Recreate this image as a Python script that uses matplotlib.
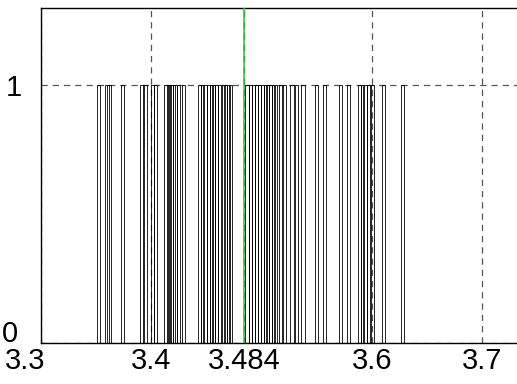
import matplotlib
matplotlib.use("Agg")
import matplotlib.pyplot as plt
import matplotlib.transforms as mtransforms

# left edges of the unit bars
bar_left = [3.3509, 3.3582, 3.3600, 3.3723, 3.3900, 3.3926, 3.3993, 3.4025,
            3.4119, 3.4143, 3.4164, 3.4180, 3.4198, 3.4230, 3.4276,
            3.4424, 3.4451, 3.4472, 3.4500, 3.4527, 3.4550, 3.4573, 3.4605,
            3.4637, 3.4659, 3.4687, 3.4705,
            3.4851, 3.4883, 3.4911, 3.4938, 3.4965, 3.4993, 3.5020, 3.5038,
            3.5066, 3.5089, 3.5111, 3.5153, 3.5189, 3.5258, 3.5303, 3.5358,
            3.5481, 3.5554, 3.5700, 3.5774, 3.5869, 3.5897, 3.5920, 3.5952,
            3.5988, 3.6089, 3.6258]
bar_height = [1] * len(bar_left)
bar_width = 0.003

marker_x = 3.484
x_ticks = [3.3, 3.4, 3.484, 3.6, 3.7]
x_labels = ["3.3", "3.4", "3.484", "3.6", "3.7"]
y_ticks = [0, 1]

plt.rcParams['font.family'] = ['Liberation Sans', 'DejaVu Sans']

fig = plt.figure(figsize=(5.17, 3.84), dpi=100)
ax = fig.add_axes([41 / 517, 1 - 343 / 384, 1 - 41 / 517 + 0.01, (343 - 8) / 384])

ax.bar(bar_left, bar_height, width=bar_width, align='edge', fill=False,
       edgecolor='black', linewidth=0.6, zorder=3)
ax.axvline(marker_x, color='#22cc22', linewidth=1.1, zorder=4)

ax.set_xlim(3.3, 3.736)
ax.set_ylim(0, 1.3)
ax.set_xticks(x_ticks)
ax.set_xticklabels(x_labels)
ax.set_yticks(y_ticks)
ax.tick_params(length=0, labelsize=21)
ax.tick_params(axis='x', pad=3)
ax.tick_params(axis='y', pad=14)
ax.grid(True, color='#555555', linestyle=(0, (5, 4)), linewidth=0.9, zorder=1)
ax.set_axisbelow(True)

# first labels moved so they do not collide in the corner
xl = ax.get_xticklabels()
xl[0].set_transform(xl[0].get_transform() + mtransforms.ScaledTranslation(-16 / 100, 0, fig.dpi_scale_trans))
yl = ax.get_yticklabels()
yl[0].set_transform(yl[0].get_transform() + mtransforms.ScaledTranslation(-4 / 100, 12 / 100, fig.dpi_scale_trans))

for s in ['left', 'top', 'bottom']:
    ax.spines[s].set_linewidth(1.0)
    ax.spines[s].set_color('black')
ax.spines['right'].set_visible(False)

fig.savefig('out.png', dpi=100)
